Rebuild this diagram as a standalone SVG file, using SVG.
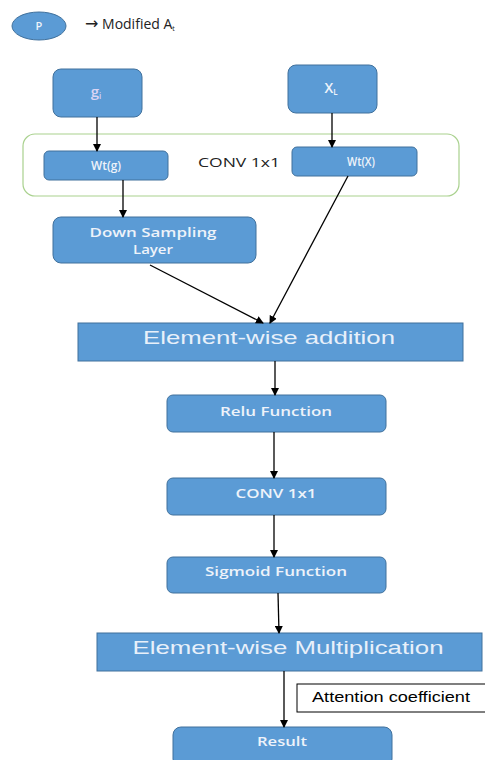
<svg xmlns="http://www.w3.org/2000/svg" width="485" height="760" viewBox="0 0 485 760">
<defs>
<marker id="ah" markerWidth="8" markerHeight="8" refX="7" refY="4" orient="auto" markerUnits="userSpaceOnUse">
<path d="M0,0 L8,4 L0,8 Z" fill="#000"/>
</marker>
<style>
.n{fill:#5B9BD5;stroke:#41719C;stroke-width:1}
.t{font-family:"Open Sans","Liberation Sans",sans-serif;font-size:12.5px;font-weight:600;fill:#eef3fa;text-anchor:middle}
.big{font-family:"Liberation Sans",Arial,sans-serif;font-size:19px;fill:#e8f0fa;text-anchor:middle}
.c{stroke:#000;stroke-width:1.3;fill:none;marker-end:url(#ah)}
.lbl{font-family:"Open Sans","Liberation Sans",sans-serif;font-size:13px;fill:#222}
</style>
</defs>
<rect width="485" height="760" fill="#fff"/>
<g id="legend">
<ellipse cx="39" cy="26" rx="27" ry="14" class="n"/>
<text x="39" y="30" class="t" style="font-size:11px">P</text>
<text x="85" y="29" class="lbl" style="font-size:14px"><tspan font-family="DejaVu Sans" font-size="16">→</tspan> Modified A<tspan font-size="7" dy="2">t</tspan></text>
</g>
<g id="conv-group">
<rect x="23" y="134" width="436" height="62" rx="12" fill="none" stroke="#A9D18E" stroke-width="1.2"/>
<text x="198" y="167" class="lbl" textLength="82" lengthAdjust="spacingAndGlyphs">CONV 1x1</text>
</g>
<g id="g">
<rect x="53" y="69" width="89" height="48" rx="8" class="n"/>
<text x="96" y="97" class="t" style="font-size:15px;fill:#d8d4f4">g<tspan font-size="8" dy="2">i</tspan></text>
</g>
<g id="x">
<rect x="288" y="65" width="89" height="48" rx="8" class="n"/>
<text x="331" y="93" class="t" style="font-size:14px">X<tspan font-size="8" dy="2">L</tspan></text>
</g>
<g id="wtg">
<rect x="44" y="151" width="124" height="29" rx="5" class="n"/>
<text x="106" y="170" class="t" textLength="30" lengthAdjust="spacingAndGlyphs">Wt(g)</text>
</g>
<g id="wtx">
<rect x="292" y="147" width="125" height="29" rx="5" class="n"/>
<text x="361" y="166" class="t" textLength="28" lengthAdjust="spacingAndGlyphs">Wt(X)</text>
</g>
<g id="down">
<rect x="53" y="217" width="203" height="46" rx="8" class="n"/>
<text x="153" y="237" class="t" textLength="127" lengthAdjust="spacingAndGlyphs">Down Sampling</text>
<text x="153" y="254" class="t" textLength="40" lengthAdjust="spacingAndGlyphs">Layer</text>
</g>
<g id="add">
<rect x="78" y="323" width="385" height="38" class="n"/>
<text x="269" y="344" class="big" textLength="252" lengthAdjust="spacingAndGlyphs">Element-wise addition</text>
</g>
<g id="relu">
<rect x="167" y="395" width="219" height="37" rx="6" class="n"/>
<text x="276" y="416" class="t" textLength="112" lengthAdjust="spacingAndGlyphs">Relu Function</text>
</g>
<g id="conv">
<rect x="167" y="478" width="219" height="37" rx="6" class="n"/>
<text x="276" y="498" class="t" textLength="81" lengthAdjust="spacingAndGlyphs">CONV 1x1</text>
</g>
<g id="sigmoid">
<rect x="167" y="557" width="219" height="36" rx="6" class="n"/>
<text x="276" y="576" class="t" textLength="142" lengthAdjust="spacingAndGlyphs">Sigmoid Function</text>
</g>
<g id="mult">
<rect x="97" y="633" width="385" height="38" class="n"/>
<text x="288" y="654" class="big" textLength="311" lengthAdjust="spacingAndGlyphs">Element-wise Multiplication</text>
</g>
<g id="attn">
<rect x="297" y="684" width="190" height="28" fill="#fff" stroke="#000" stroke-width="1"/>
<text x="312" y="702" style="font-family:'Liberation Sans',Arial,sans-serif;font-size:15px;fill:#000" textLength="158" lengthAdjust="spacingAndGlyphs">Attention coefficient</text>
</g>
<g id="result">
<rect x="173" y="727" width="219" height="40" rx="8" class="n"/>
<text x="282" y="746" class="t" textLength="50" lengthAdjust="spacingAndGlyphs">Result</text>
</g>
<g id="connectors">
<line x1="97" y1="117" x2="97" y2="151" class="c"/>
<line x1="332" y1="113" x2="332" y2="147" class="c"/>
<line x1="123" y1="180" x2="123" y2="217" class="c"/>
<line x1="348" y1="176" x2="270" y2="323" class="c"/>
<line x1="150" y1="265" x2="263" y2="323" class="c"/>
<line x1="275" y1="361" x2="275" y2="395" class="c"/>
<line x1="274" y1="432" x2="274" y2="478" class="c"/>
<line x1="274" y1="515" x2="274" y2="557" class="c"/>
<line x1="278" y1="593" x2="279" y2="633" class="c"/>
<line x1="284" y1="671" x2="284" y2="727" class="c"/>
</g>
</svg>
